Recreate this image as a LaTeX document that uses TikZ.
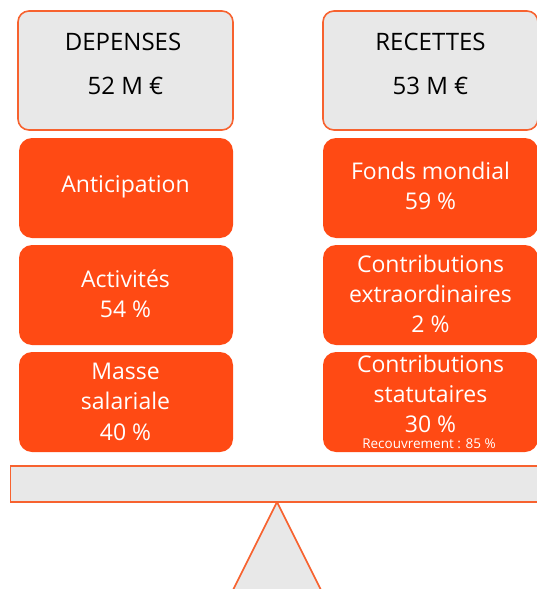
\documentclass[tikz,border=0pt]{standalone}
\usepackage{fontspec}
\setmainfont{Open Sans}
\definecolor{orfill}{HTML}{FF4A14}
\definecolor{orline}{HTML}{F7622F}
\definecolor{lgray}{HTML}{E8E8E8}
\begin{document}
\begin{tikzpicture}[x=1pt,y=-1pt,
  headbox/.style={draw=orline,line width=1.6pt,fill=lgray,rounded corners=11pt},
  catbox/.style={fill=orfill,rounded corners=13pt},
  blk/.style={font=\fontsize{24}{28}\selectfont,text=black,inner sep=0pt},
  wht/.style={font=\fontsize{23}{27}\selectfont,text=white,inner sep=0pt},
  small/.style={font=\fontsize{13.5}{15}\selectfont,text=white,inner sep=0pt}]
\useasboundingbox (0,0) rectangle (537,589);
% header boxes
\draw[headbox] (18,11) rectangle (233,130);
\draw[headbox] (323,11) rectangle (538,130);
\node[blk] (dep) at (123,42) {DEPENSES};
\node[blk] (depv) at (125.5,86) {52 M €};
\node[blk] (rec) at (430.5,42) {RECETTES};
\node[blk] (recv) at (430.5,86) {53 M €};
% left column
\fill[catbox] (19,138) rectangle (233,238);
\fill[catbox] (19,245) rectangle (233,345);
\fill[catbox] (19,352) rectangle (233,452);
\node[wht] (ant) at (125.5,187) {Anticipation};
\node[wht] (act1) at (125.5,279) {Activités};
\node[wht] (act2) at (125.5,309) {54 \%};
\node[wht] (mas1) at (125.5,371) {Masse};
\node[wht] (mas2) at (125.5,401) {salariale};
\node[wht] (mas3) at (125.5,432) {40 \%};
% right column
\fill[catbox] (323,138) rectangle (538,238);
\fill[catbox] (323,245) rectangle (538,345);
\fill[catbox] (323,352) rectangle (538,452);
\node[wht] (fm1) at (430.5,171) {Fonds mondial};
\node[wht] (fm2) at (430.5,201) {59 \%};
\node[wht] (ce1) at (430.5,264) {Contributions};
\node[wht] (ce2) at (430.5,294) {extraordinaires};
\node[wht] (ce3) at (430.5,324) {2 \%};
\node[wht] (cs1) at (430.5,364) {Contributions};
\node[wht] (cs2) at (430.5,394) {statutaires};
\node[wht] (cs3) at (430.5,424) {30 \%};
\node[small] (rcv) at (429,444) {Recouvrement : 85 \%};
% triangle and beam
\draw[draw=orline,line width=1.6pt,fill=lgray] (277,502) -- (228,600) -- (326,600) -- cycle;
\draw[draw=orline,line width=1.6pt,fill=lgray] (10.5,466) rectangle (545,502);
\end{tikzpicture}
\end{document}
